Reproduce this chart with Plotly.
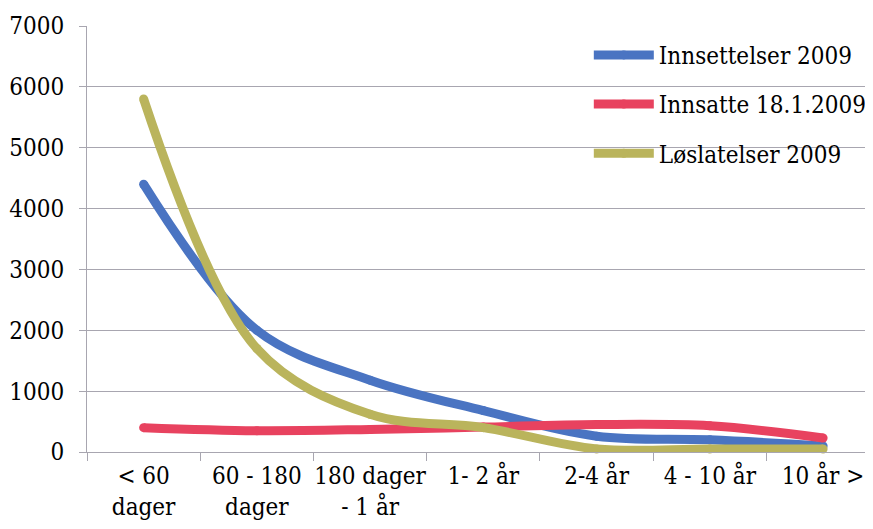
import plotly.graph_objects as go

categories = ["< 60<br>dager", "60 - 180<br>dager", "180 dager<br>- 1 år", "1- 2 år", "2-4 år", "4 - 10 år", "10 år >"]
innsettelser_2009 = [4400, 2000, 1180, 680, 260, 200, 100]
innsatte_18_1_2009 = [400, 350, 370, 410, 450, 430, 230]
loslatelser_2009 = [5800, 1700, 620, 400, 50, 50, 50]

series = [
    ("Innsettelser 2009", innsettelser_2009, "#4A74C2"),
    ("Innsatte 18.1.2009", innsatte_18_1_2009, "#E8425F"),
    ("Løslatelser 2009", loslatelser_2009, "#BAB45C"),
]

font_family = "DejaVu Serif Condensed, DejaVu Serif"

fig = go.Figure()
for name, vals, color in series:
    fig.add_trace(go.Scatter(
        x=categories, y=vals, name=name, legendgroup=name,
        mode="lines+markers",
        line=dict(color=color, width=9, shape="spline", smoothing=1),
        marker=dict(color=color, size=9),
        cliponaxis=False,
    ))

fig.update_layout(
    width=857, height=513,
    margin=dict(l=79, r=0, t=18, b=69, autoexpand=False),
    paper_bgcolor="white", plot_bgcolor="white",
    font=dict(family=font_family, size=24, color="black"),
    showlegend=True,
    legend=dict(
        x=0.645, y=0.984, xanchor="left", yanchor="top",
        bgcolor="rgba(255,255,255,0)",
        font=dict(family=font_family, size=24, color="black"),
        itemwidth=60, tracegroupgap=15,
    ),
)
fig.update_xaxes(
    type="category", range=[-0.5, 6.37], automargin=False,
    showgrid=False, showline=True, linecolor="#A8A6B0", linewidth=1,
    ticks="outside", tickson="boundaries", ticklen=8, tickcolor="#A8A6B0",
    tickangle=0, ticklabelstandoff=2,
    tickfont=dict(family=font_family, size=24, color="black"),
    zeroline=False,
)
fig.update_yaxes(
    range=[0, 7000], tickvals=[0, 1000, 2000, 3000, 4000, 5000, 6000, 7000],
    automargin=False,
    showgrid=True, gridcolor="#A8A6B0", gridwidth=1,
    showline=True, linecolor="#A8A6B0", linewidth=1,
    ticks="outside", ticklen=7, tickcolor="#A8A6B0",
    ticklabelstandoff=10,
    tickfont=dict(family=font_family, size=24, color="black"),
    zeroline=False,
)

fig.write_html("out.html")
